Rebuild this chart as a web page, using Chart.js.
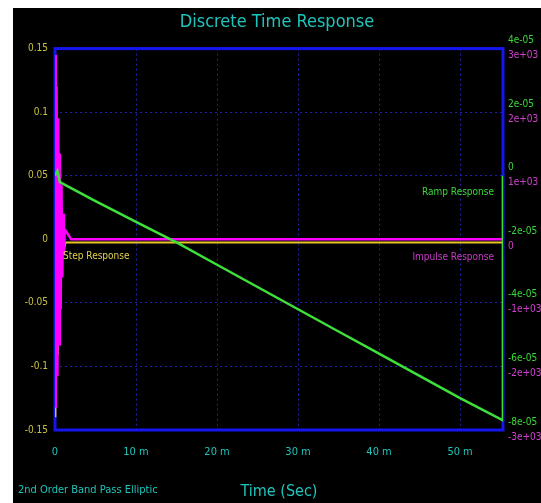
<!DOCTYPE html>
<html>
<head>
<meta charset="utf-8">
<script src="https://cdn.jsdelivr.net/npm/chart.js@4/dist/chart.umd.min.js"></script>
<style>
    body { margin: 0; background: #ffffff; }
    #wrap { position: absolute; left: 13px; top: 8px; width: 528px; height: 495px; background: #000000; }
    canvas { display: block; }
</style>
</head>
<body>
<div id="wrap"><canvas id="respChart" width="528" height="495"></canvas></div>
<script>
// 时间单位: ms (刻度上写成 "m")
const impulseTimeMs = [0, 0.1, 0.2, 0.3, 0.4, 0.5, 0.6, 0.7, 0.8, 0.9, 1.0, 1.1, 1.2, 1.4, 1.7, 2.0, 55.3];
const impulseValues = [2900, -2650, 2400, -2150, 1900, -1650, 1350, -1100, 850, -600, 400, -250, 150, 120, 60, 0, 0];

const stepTimeMs = [0, 0.05, 0.15, 0.25, 0.35, 0.45, 0.55, 0.65, 0.8, 1.0, 1.3, 55.3];
const stepValues = [0.145, -0.14, 0.1, -0.09, 0.07, -0.06, 0.045, -0.03, 0.02, -0.01, -0.0025, -0.0025];

const rampTimeMs = [0, 0.3, 0.6, 5, 10, 15, 20, 25, 30, 35, 40, 45, 50, 55.3, 55.3];
const rampValues = [0, 1.5e-6, -2e-6, -8e-6, -1.45e-5, -2.1e-5, -2.8e-5, -3.5e-5, -4.2e-5, -4.9e-5, -5.6e-5, -6.3e-5, -7.0e-5, -7.7e-5, 0];

const timeTicksMs = [0, 10, 20, 30, 40, 50];
const leftTicks = [0.15, 0.1, 0.05, 0, -0.05, -0.1, -0.15];
const rampTicks = [4e-5, 2e-5, 0, -2e-5, -4e-5, -6e-5, -8e-5];
const impulseTicks = [3000, 2000, 1000, 0, -1000, -2000, -3000];

const FONT = "'Liberation Sans Narrow', 'DejaVu Sans Condensed', 'Liberation Sans', sans-serif";
const CYAN = '#1fc4bc';
const GREEN_TXT = '#38d838';
const MAGENTA_TXT = '#d040d0';

function toPoints(ts, vs) {
    return ts.map(function(t, i) { return { x: t / 1000, y: vs[i] }; });
}

function expLabel(v) {
    if (Math.abs(v) < 1e-12) return '0';
    return v.toExponential(0).replace(/e([+-])(\d)$/, 'e$10$2');
}

function fixedTicks(list) {
    return function(scale) {
        scale.ticks = list.map(function(v) { return { value: v }; });
    };
}

// 边框 + 图内文字 + 右侧第二组刻度
const decoPlugin = {
    id: 'deco',
    beforeDatasetsDraw(chart) {
        const a = chart.chartArea, ctx = chart.ctx;
        ctx.save();
        ctx.strokeStyle = '#1515f0';
        ctx.lineWidth = 3;
        ctx.strokeRect(a.left, a.top, a.right - a.left, a.bottom - a.top);
        ctx.restore();
    },
    afterDraw(chart) {
        const a = chart.chartArea, ctx = chart.ctx;
        const y0 = chart.scales.y.getPixelForValue(0);
        const yr = chart.scales.yRamp.getPixelForValue(0);
        const imp = chart.scales.yImp;
        ctx.save();
        ctx.font = '10px ' + FONT;
        ctx.textBaseline = 'middle';
        ctx.textAlign = 'left';
        ctx.fillStyle = MAGENTA_TXT;
        impulseTicks.forEach(function(v) {
            ctx.fillText(expLabel(v), a.right + 5, imp.getPixelForValue(v) + 7);
        });
        ctx.fillStyle = '#e0d050';
        ctx.fillText('Step Response', a.left + 8, y0 + 17);
        ctx.textAlign = 'right';
        ctx.fillStyle = GREEN_TXT;
        ctx.fillText('Ramp Response', a.right - 9, yr + 17);
        ctx.fillStyle = '#c83cc8';
        ctx.fillText('Impulse Response', a.right - 9, y0 + 18);
        ctx.textAlign = 'left';
        ctx.font = '11px ' + FONT;
        ctx.fillStyle = CYAN;
        ctx.fillText('2nd Order Band Pass Elliptic', 5, 482);
        ctx.restore();
    }
};

const gridStyle = {
    color: '#2020a8',
    lineWidth: 1,
    drawTicks: false
};

new Chart(document.getElementById('respChart').getContext('2d'), {
    type: 'line',
    data: {
        datasets: [
            {
                label: 'Ramp Response',
                data: toPoints(rampTimeMs, rampValues),
                yAxisID: 'yRamp',
                borderColor: '#3ee03a',
                borderWidth: 2.5,
                pointRadius: 0,
                tension: 0,
                order: 0
            },
            {
                label: 'Impulse Response',
                data: toPoints(impulseTimeMs, impulseValues),
                yAxisID: 'yImp',
                borderColor: '#ff00ff',
                borderWidth: 2.5,
                pointRadius: 0,
                tension: 0,
                order: 1,
                segment: {
                    borderColor: function(c) { return c.p0.parsed.x > 0.0025 ? '#e07aa8' : undefined; }
                }
            },
            {
                label: 'Step Response',
                data: toPoints(stepTimeMs, stepValues),
                yAxisID: 'y',
                borderColor: '#e8c428',
                borderWidth: 2,
                pointRadius: 0,
                tension: 0,
                order: 2
            }
        ]
    },
    options: {
        responsive: false,
        animation: false,
        layout: { padding: 0 },
        plugins: {
            legend: { display: false },
            tooltip: { enabled: false },
            title: {
                display: true,
                text: 'Discrete Time Response',
                color: CYAN,
                font: { family: FONT, size: 18, weight: 'normal' },
                padding: { top: 4, bottom: 15 }
            }
        },
        scales: {
            x: {
                type: 'linear',
                min: 0,
                max: 0.0553,
                afterBuildTicks: fixedTicks(timeTicksMs.map(function(v) { return v / 1000; })),
                afterFit: function(s) { s.height = 73; },
                grid: gridStyle,
                border: { display: false, dash: [2, 3] },
                ticks: {
                    color: CYAN,
                    padding: 16,
                    maxRotation: 0,
                    font: { family: FONT, size: 11 },
                    callback: function(v) {
                        const ms = Math.round(v * 1000);
                        return ms === 0 ? '0' : ms + ' m';
                    }
                },
                title: {
                    display: true,
                    text: 'Time (Sec)',
                    color: CYAN,
                    font: { family: FONT, size: 16 },
                    padding: { top: 8, bottom: 2 }
                }
            },
            y: {
                position: 'left',
                min: -0.15,
                max: 0.15,
                afterBuildTicks: fixedTicks(leftTicks),
                afterFit: function(s) { s.width = 42; },
                grid: gridStyle,
                border: { display: false, dash: [2, 3] },
                ticks: {
                    color: '#c8c040',
                    padding: 7,
                    font: { family: FONT, size: 10 },
                    callback: function(v) { return Math.abs(v) < 1e-9 ? '0' : String(Math.round(v * 100) / 100); }
                }
            },
            yRamp: {
                position: 'right',
                min: -8e-5,
                max: 4e-5,
                afterBuildTicks: fixedTicks(rampTicks),
                afterFit: function(s) { s.width = 38; },
                grid: { display: false, drawTicks: false },
                border: { display: false },
                ticks: {
                    color: GREEN_TXT,
                    padding: 5,
                    labelOffset: -8,
                    font: { family: FONT, size: 10 },
                    callback: expLabel
                }
            },
            yImp: {
                display: false,
                position: 'right',
                min: -3000,
                max: 3000
            }
        }
    },
    plugins: [decoPlugin]
});
</script>
</body>
</html>
